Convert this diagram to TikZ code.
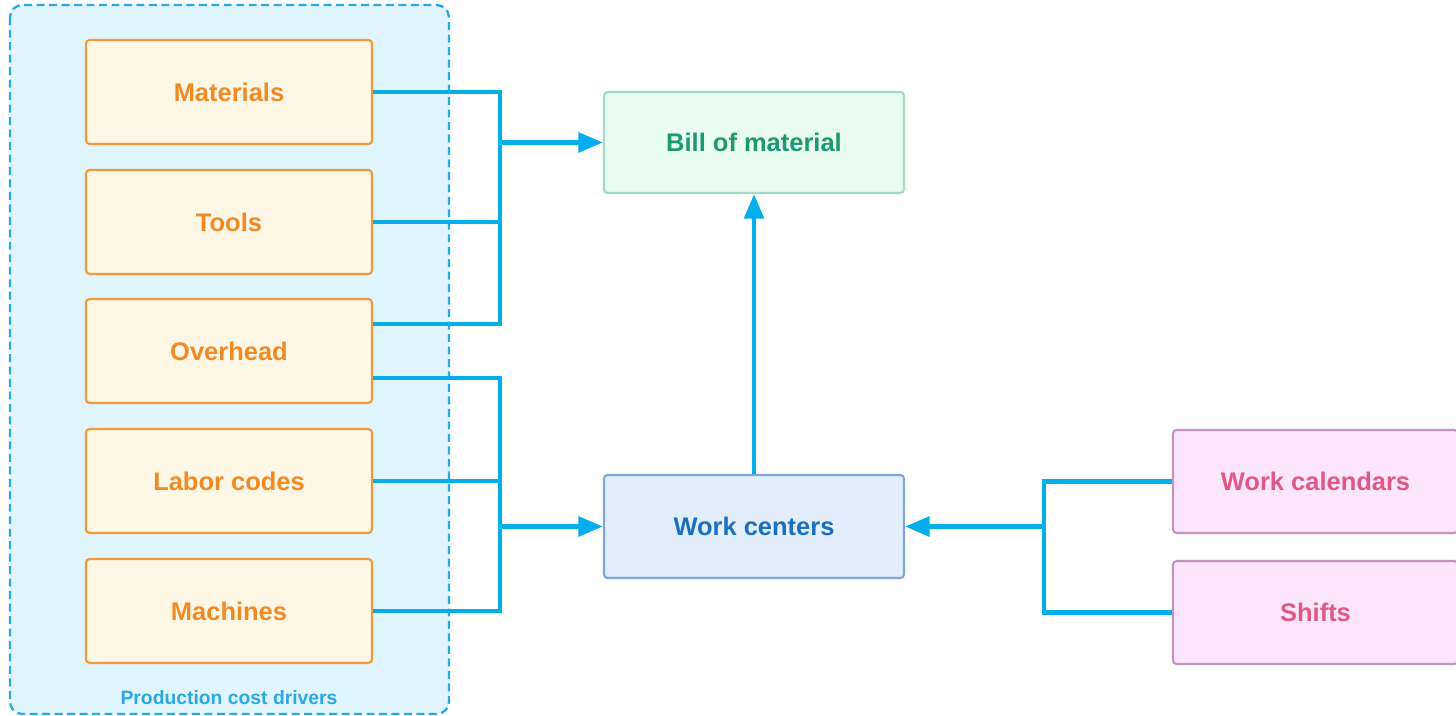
\documentclass[tikz,border=0pt]{standalone}
\usepackage{fontspec}
\setmainfont{Liberation Sans}
\usetikzlibrary{arrows.meta}
\definecolor{grpfill}{HTML}{E1F5FE}
\definecolor{grpline}{HTML}{2AA8E2}
\definecolor{drvfill}{HTML}{FFF7E6}
\definecolor{drvline}{HTML}{F29A3A}
\definecolor{drvtext}{HTML}{F08A24}
\definecolor{bomfill}{HTML}{E8FCF1}
\definecolor{bomline}{HTML}{A2DCC8}
\definecolor{bomtext}{HTML}{1E9873}
\definecolor{wcfill}{HTML}{E3EEFD}
\definecolor{wcline}{HTML}{7FA6DB}
\definecolor{wctext}{HTML}{1A70BE}
\definecolor{calfill}{HTML}{FDE6FD}
\definecolor{calline}{HTML}{C393C0}
\definecolor{caltext}{HTML}{DF5A82}
\definecolor{linkblue}{HTML}{05AEEA}
\begin{document}
\begin{tikzpicture}[x=0.02cm,y=-0.02cm,
    box/.style={draw,rounded corners=2pt,line width=1.2pt,font=\bfseries\fontsize{14.5}{16}\selectfont},
    drv/.style={box,draw=drvline,fill=drvfill,text=drvtext,minimum width=5.72cm,minimum height=2.08cm},
    cal/.style={box,draw=calline,fill=calfill,text=caltext,minimum width=5.7cm,minimum height=2.06cm},
    link/.style={draw=linkblue,line width=2.8pt},
    tip/.style={link,-{Triangle[length=14pt,width=11pt]}}]
    \useasboundingbox (0,0) rectangle (1456,716);
    % group of cost drivers
    \draw[grpline,fill=grpfill,dash pattern=on 4.5pt off 2.6pt,line width=1.3pt,rounded corners=7pt] (10,5) rectangle (449,714);
    \node[text=grpline,font=\bfseries\fontsize{11}{13}\selectfont] (grplabel) at (229,698) {Production cost drivers};
    \node[drv] (mat) at (229,92) {Materials};
    \node[drv] (tools) at (229,222) {Tools};
    \node[drv] (ovh) at (229,351) {Overhead};
    \node[drv] (labor) at (229,481) {Labor codes};
    \node[drv] (mach) at (229,611) {Machines};
    % targets
    \node[box,draw=bomline,fill=bomfill,text=bomtext,minimum width=6cm,minimum height=2.02cm] (bom) at (754,142.5) {Bill of material};
    \node[box,draw=wcline,fill=wcfill,text=wctext,minimum width=6cm,minimum height=2.06cm] (wc) at (754,526.5) {Work centers};
    \node[cal] (wcal) at (1315.5,481.5) {Work calendars};
    \node[cal] (shifts) at (1315.5,612.5) {Shifts};
    % connectors
    \coordinate (ovhup) at ([yshift=0.54cm]ovh.east);
    \coordinate (ovhlo) at ([yshift=-0.54cm]ovh.east);
    \coordinate (jA) at (500,142.5);
    \coordinate (jB) at (500,526.5);
    \coordinate (jC) at (1044,526.5);
    \draw[link] (mat.east) -| (jA |- ovhup) -- (ovhup);
    \draw[link] (tools.east) -- (tools.east -| jA);
    \draw[tip] (jA) -- (bom.west);
    \draw[link] (ovhlo) -| (jB |- mach.east) -- (mach.east);
    \draw[link] (labor.east) -- (labor.east -| jB);
    \draw[tip] (jB) -- (wc.west);
    \draw[tip] (wc.north) -- (bom.south);
    \draw[link] (wcal.west) -| (jC |- shifts.west) -- (shifts.west);
    \draw[tip] (jC) -- (wc.east);
\end{tikzpicture}
\end{document}
